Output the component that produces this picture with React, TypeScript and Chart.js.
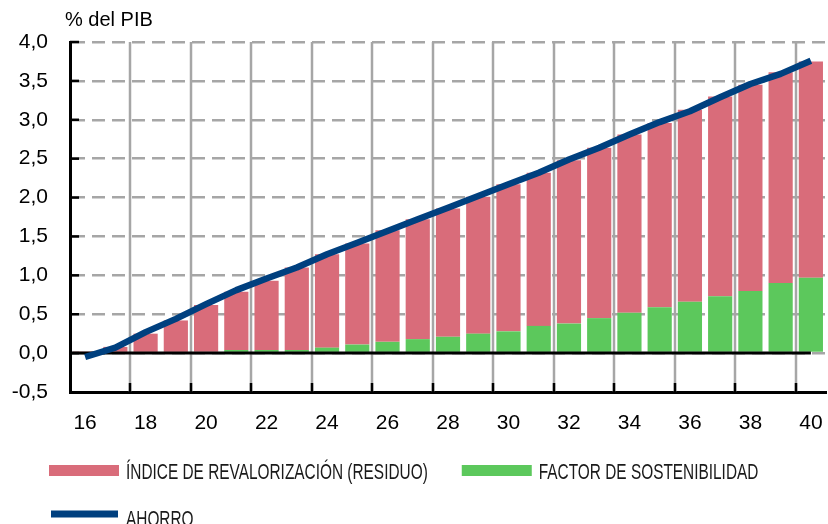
import React, { useEffect, useRef } from 'react';
import { Chart, registerables } from 'chart.js';

Chart.register(...registerables);

// ---- Data ----
const years = ['16', '17', '18', '19', '20', '21', '22', '23', '24', '25', '26', '27', '28',
  '29', '30', '31', '32', '33', '34', '35', '36', '37', '38', '39', '40'];

const factorSostenibilidad = [0, 0, 0, 0, 0, 0.04, 0.04, 0.04, 0.07, 0.11, 0.145, 0.18, 0.21,
  0.25, 0.28, 0.35, 0.38, 0.45, 0.52, 0.59, 0.66, 0.73, 0.8, 0.9, 0.97];

const indiceRevalorizacion = [0.02, 0.08, 0.25, 0.42, 0.62, 0.75, 0.89, 1.06, 1.2, 1.3, 1.435, 1.54, 1.65,
  1.76, 1.89, 1.97, 2.1, 2.19, 2.29, 2.37, 2.47, 2.57, 2.65, 2.71, 2.78];

const ahorro = [-0.05, 0.07, 0.27, 0.44, 0.63, 0.81, 0.96, 1.1, 1.27, 1.42, 1.57, 1.72, 1.87,
  2.02, 2.17, 2.32, 2.49, 2.64, 2.81, 2.97, 3.11, 3.29, 3.46, 3.59, 3.76];

const yMin = -0.5;
const yMax = 4;
const yStep = 0.5;
const yAxisTitle = '% del PIB';

const LABEL_INDICE = 'ÍNDICE DE REVALORIZACIÓN (RESIDUO)';
const LABEL_FACTOR = 'FACTOR DE SOSTENIBILIDAD';
const LABEL_AHORRO = 'AHORRO';

// ---- Styles ----
const FONT = '"Liberation Sans", Arial, Helvetica, sans-serif';
const RED = '#d96c7a';
const GREEN = '#5cc85c';
const BLUE = '#00407f';
const GRID = '#a6a6a6';

function boundaryX(xs: any, i: number) {
  return Math.round((xs.getPixelForValue(i - 1) + xs.getPixelForValue(i)) / 2);
}

const decorPlugin = {
  id: 'decor',
  beforeDatasetsDraw(chart: any) {
    // vertical grid lines every two categories (category boundaries)
    const { ctx, chartArea, scales } = chart;
    const xs = scales.x;
    ctx.save();
    ctx.setLineDash([]);
    ctx.strokeStyle = GRID;
    ctx.lineWidth = 2.5;
    for (let i = 2; i < years.length; i += 2) {
      const x = boundaryX(xs, i);
      ctx.beginPath();
      ctx.moveTo(x, chartArea.top);
      ctx.lineTo(x, chartArea.bottom);
      ctx.stroke();
    }
    ctx.restore();
  },
  beforeDatasetDraw(chart: any, args: any) {
    if (args.meta.type !== 'line') return;
    const { ctx, chartArea, scales } = chart;
    const y0 = scales.y.getPixelForValue(0);
    const xEnd = scales.x.getPixelForValue(years.length - 1);
    ctx.save();
    ctx.setLineDash([]);
    ctx.strokeStyle = '#000';
    ctx.lineWidth = 3;
    ctx.beginPath();
    ctx.moveTo(chartArea.left, y0);
    ctx.lineTo(xEnd, y0);
    ctx.stroke();
    ctx.restore();
  },
  afterDraw(chart: any) {
    const { ctx, chartArea, scales } = chart;
    const xs = scales.x;
    const ys = scales.y;
    ctx.save();
    ctx.setLineDash([]);
    // inward tick marks
    ctx.strokeStyle = '#000';
    ctx.lineWidth = 2.5;
    ys.ticks.forEach((t: any) => {
      if (t.value <= yMin) return;
      const y = ys.getPixelForValue(t.value);
      ctx.beginPath();
      ctx.moveTo(chartArea.left, y);
      ctx.lineTo(chartArea.left + 9, y);
      ctx.stroke();
    });
    for (let i = 2; i < years.length; i += 2) {
      const x = boundaryX(xs, i);
      ctx.beginPath();
      ctx.moveTo(x, chartArea.bottom);
      ctx.lineTo(x, chartArea.bottom - 9);
      ctx.stroke();
    }
    // title
    ctx.fillStyle = '#000';
    ctx.font = `20px ${FONT}`;
    ctx.textBaseline = 'alphabetic';
    ctx.textAlign = 'left';
    ctx.fillText(yAxisTitle, 65, 26);

    // legend
    const ds = chart.data.datasets;
    const byLabel = (l: string) => ds.find((d: any) => d.label === l);
    const items = [byLabel(LABEL_INDICE), byLabel(LABEL_FACTOR), byLabel(LABEL_AHORRO)];
    ctx.font = `22px ${FONT}`;
    const sx = 0.7;
    const rows = [
      { y: 470.5, base: 479, list: [items[0], items[1]] },
      { y: 514, base: 525.5, list: [items[2]] },
    ];
    rows.forEach((row) => {
      let x = 49;
      row.list.forEach((d: any) => {
        if (d.type === 'line') {
          ctx.fillStyle = d.borderColor;
          ctx.fillRect(x + 2, row.y - 3.5, 67, 7);
        } else {
          ctx.fillStyle = d.backgroundColor;
          ctx.fillRect(x, row.y - 5.5, 70, 11);
        }
        const tx = x + 77;
        const w = ctx.measureText(d.label).width * sx;
        ctx.save();
        ctx.translate(tx, row.base);
        ctx.scale(sx, 1);
        ctx.fillStyle = '#1a1a1a';
        ctx.fillText(d.label, 0, 0);
        ctx.restore();
        x = tx + w + 34;
      });
    });
    ctx.restore();
  },
};

export default function App() {
  const ref = useRef<HTMLCanvasElement>(null);

  useEffect(() => {
    const canvas = ref.current;
    if (!canvas) return;
    const chart = new Chart(canvas, {
      type: 'bar',
      data: {
        labels: years,
        datasets: [
          {
            label: LABEL_FACTOR,
            data: factorSostenibilidad,
            backgroundColor: GREEN,
            stack: 'bars',
            order: 1,
            barPercentage: 0.8,
            categoryPercentage: 1,
          },
          {
            label: LABEL_INDICE,
            data: indiceRevalorizacion,
            backgroundColor: RED,
            stack: 'bars',
            order: 1,
            barPercentage: 0.8,
            categoryPercentage: 1,
          },
          {
            type: 'line',
            label: LABEL_AHORRO,
            data: ahorro,
            borderColor: BLUE,
            backgroundColor: BLUE,
            borderWidth: 6.5,
            pointRadius: 0,
            tension: 0,
            fill: false,
            stack: 'line',
            order: 0,
            borderJoinStyle: 'round',
          } as any,
        ],
      },
      options: {
        responsive: false,
        animation: false,
        devicePixelRatio: 1,
        layout: { padding: { top: 42, left: 0, right: 2, bottom: 0 } },
        plugins: {
          legend: { display: false },
          tooltip: { enabled: false },
          title: { display: false },
        },
        scales: {
          x: {
            stacked: true,
            offset: true,
            grid: { display: false, drawTicks: false },
            border: { color: '#000', width: 3 },
            ticks: {
              autoSkip: false,
              maxRotation: 0,
              minRotation: 0,
              color: '#000',
              padding: 19,
              font: { family: FONT, size: 21 },
              callback: (_v: any, i: number) => (i % 2 === 0 ? years[i] : ''),
            },
            afterFit: (s: any) => {
              s.height = 132;
              s.paddingLeft = 0;
              s.paddingRight = 0;
            },
          },
          y: {
            stacked: true,
            min: yMin,
            max: yMax,
            grid: { color: GRID, lineWidth: 2.5, drawTicks: false },
            border: { color: '#000', width: 3, dash: [13, 7] },
            ticks: {
              stepSize: yStep,
              color: '#000',
              padding: 22,
              font: { family: FONT, size: 21 },
              callback: (v: any) => Number(v).toFixed(1).replace('.', ','),
            },
            afterFit: (s: any) => {
              s.width = 70;
            },
          },
        },
      },
      plugins: [decorPlugin],
    });
    return () => chart.destroy();
  }, []);

  return (
    <div style={{ position: 'absolute', left: 0, top: 0, width: 828, height: 524, background: '#fff' }}>
      <canvas ref={ref} width={828} height={524} style={{ display: 'block' }} />
    </div>
  );
}
